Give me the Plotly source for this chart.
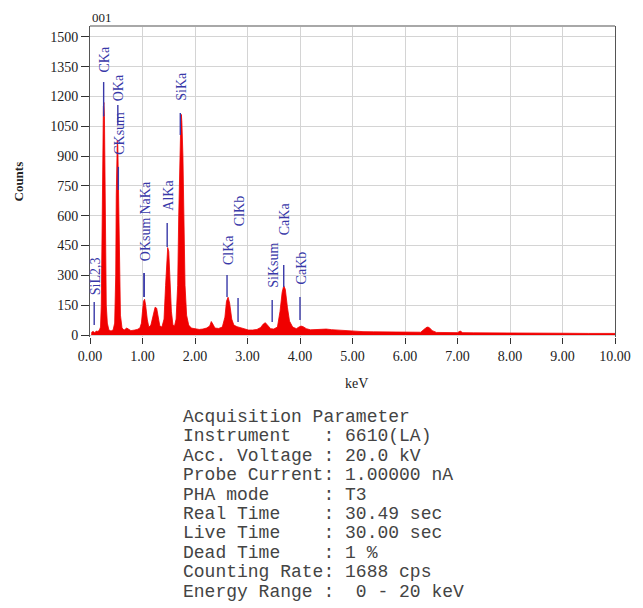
import plotly.graph_objects as go

# ---------------- data ----------------
energy_kev = [0.03, 0.035, 0.06, 0.09, 0.12, 0.15, 0.18, 0.20, 0.215, 0.225, 0.235, 0.245, 0.255, 0.265,
              0.275, 0.285, 0.295, 0.31, 0.33, 0.36, 0.40, 0.44, 0.47, 0.49, 0.50, 0.51, 0.52, 0.53,
              0.545, 0.56, 0.58, 0.61, 0.65, 0.70, 0.73, 0.78, 0.85, 0.90, 0.95, 0.98, 1.00, 1.02,
              1.04, 1.06, 1.09, 1.12, 1.16, 1.20, 1.24, 1.27, 1.30, 1.33, 1.37, 1.41, 1.44, 1.46,
              1.48, 1.50, 1.52, 1.55, 1.58, 1.61, 1.64, 1.67, 1.69, 1.71, 1.73, 1.74, 1.75, 1.77,
              1.79, 1.81, 1.84, 1.88, 1.93, 2.00, 2.08, 2.15, 2.22, 2.28, 2.31, 2.34, 2.38, 2.45,
              2.52, 2.57, 2.60, 2.63, 2.66, 2.70, 2.74, 2.80, 2.88, 2.95, 3.02, 3.10, 3.18, 3.25,
              3.30, 3.34, 3.38, 3.44, 3.50, 3.57, 3.62, 3.66, 3.69, 3.72, 3.76, 3.80, 3.86, 3.93,
              3.98, 4.02, 4.06, 4.12, 4.20, 4.30, 4.40, 4.50, 4.60, 4.70, 4.80, 4.90, 5.00, 5.20,
              5.40, 5.60, 5.80, 6.00, 6.20, 6.30, 6.36, 6.42, 6.46, 6.52, 6.60, 6.80, 7.00, 7.05,
              7.10, 7.30, 7.60, 8.00, 8.50, 9.00, 9.50, 10.00]
counts = [0, 15, 18, 12, 20, 18, 25, 40, 150, 600, 720, 900, 1150, 1170,
          1100, 700, 400, 150, 60, 25, 20, 25, 60, 300, 700, 920, 980, 950,
          700, 300, 100, 35, 25, 35, 30, 22, 25, 28, 35, 60, 120, 170,
          180, 150, 80, 40, 50, 100, 140, 135, 90, 45, 40, 80, 250, 380,
          440, 420, 300, 120, 50, 45, 80, 250, 600, 950, 1080, 1110, 1070, 900,
          550, 250, 100, 50, 35, 30, 28, 30, 35, 45, 68, 55, 35, 33,
          40, 90, 170, 190, 160, 80, 50, 42, 35, 28, 25, 25, 28, 38,
          55, 62, 50, 32, 30, 40, 120, 215, 248, 230, 140, 70, 40, 32,
          40, 45, 42, 32, 26, 28, 30, 30, 27, 25, 22, 22, 20, 17,
          16, 15, 15, 14, 13, 14, 28, 40, 38, 22, 13, 11, 12, 20,
          12, 11, 10, 10, 9, 9, 8, 8]

peak_names = ["SiL2,3", "CKa", "OKa", "CKsum", "OKsum", "NaKa", "AlKa", "SiKa",
              "ClKa", "ClKb", "SiKsum", "CaKa", "CaKb"]
peak_energy = [0.08, 0.26, 0.53, 0.54, 1.03, 1.03, 1.47, 1.72, 2.61, 2.82, 3.47, 3.69, 4.00]
line_bottom = [50, 1100, 1060, 730, 191, 191, 443, 1007, 191, 65, 65, 242, 75]
line_top = [166, 1273, 1158, 846, 312, 312, 564, 1117, 302, 186, 176, 352, 191]
label_bottom = [191, 1309, 1168, 896, 362, 594, 614, 1168, 342, 538, 226, 493, 242]

x_ticks = [0, 1, 2, 3, 4, 5, 6, 7, 8, 9, 10]
y_ticks = [0, 150, 300, 450, 600, 750, 900, 1050, 1200, 1350, 1500]

chart_title = "001"
x_title = "keV"
y_title = "Counts"
info_lines = [
    "Acquisition Parameter",
    "Instrument   : 6610(LA)",
    "Acc. Voltage : 20.0 kV",
    "Probe Current: 1.00000 nA",
    "PHA mode     : T3",
    "Real Time    : 30.49 sec",
    "Live Time    : 30.00 sec",
    "Dead Time    : 1 %",
    "Counting Rate: 1688 cps",
    "Energy Range :  0 - 20 keV",
]

# ---------------- layout helpers ----------------
# the page body has an 8px default margin, so the figure is drawn 8px smaller
OFF = 8
W, H = 643 - OFF, 608 - OFF
# plot area in page pixels
L, R, T, B = 90, 626, 26, 337


def px(xp):
    return (xp - L) / (R - L)


def py(yp):
    return (B - yp) / (B - T)


serif = "Liberation Serif, Times New Roman, serif"
blue = "#3838a8"

fig = go.Figure()

fig.add_trace(go.Scatter(
    x=energy_kev, y=counts, mode="lines", fill="tozeroy",
    line=dict(color="rgb(240,0,0)", width=0.8),
    fillcolor="rgb(240,0,0)", hoverinfo="skip", showlegend=False,
))

lx, ly = [], []
for e, b0, t0 in zip(peak_energy, line_bottom, line_top):
    lx += [e, e, None]
    ly += [b0, t0, None]
fig.add_trace(go.Scatter(x=lx, y=ly, mode="lines", line=dict(color=blue, width=1.4),
                         hoverinfo="skip", showlegend=False))

annotations = []
for name, e, lb in zip(peak_names, peak_energy, label_bottom):
    annotations.append(dict(
        x=e, y=lb, xref="x", yref="y", text=name, textangle=-90, showarrow=False,
        xanchor="center", yanchor="bottom", xshift=1,
        font=dict(family=serif, size=14, color=blue),
    ))

annotations.append(dict(x=px(90), y=py(17), xref="paper", yref="paper", text=chart_title,
                        showarrow=False, xanchor="left", yanchor="middle",
                        font=dict(family=serif, size=13, color="#222")))
annotations.append(dict(x=px(362), y=py(383), xref="paper", yref="paper", text=x_title,
                        showarrow=False, xanchor="center", yanchor="middle",
                        font=dict(family=serif, size=14, color="#222")))
annotations.append(dict(x=px(17), y=py(181), xref="paper", yref="paper", text="<b>" + y_title + "</b>",
                        showarrow=False, xanchor="center", yanchor="middle", textangle=-90,
                        font=dict(family=serif, size=13, color="#222")))

for i, line in enumerate(info_lines):
    annotations.append(dict(
        x=px(183), y=py(417 + 19.4 * i), xref="paper", yref="paper",
        text=line.replace(" ", "&nbsp;"), showarrow=False, xanchor="left", yanchor="middle",
        font=dict(family="Liberation Mono, Courier New, monospace", size=18, color="#444"),
    ))

fig.update_layout(
    width=W, height=H,
    margin=dict(l=L - OFF, r=643 - R, t=T - OFF, b=608 - B, pad=0),
    paper_bgcolor="white", plot_bgcolor="white",
    annotations=annotations,
    shapes=[dict(type="line", xref="paper", yref="paper", x0=0, x1=1, y0=1, y1=1,
                 line=dict(color="#a8a8a8", width=2))],
)

fig.update_xaxes(
    range=[0, 10], tickvals=x_ticks, tickformat=".2f",
    showgrid=True, gridcolor="#d4d4d4", gridwidth=1, zeroline=False,
    showline=False, ticks="outside", ticklen=6, tickcolor="#333", tickwidth=1,
    tickfont=dict(family=serif, size=14, color="#222"),
)
fig.update_yaxes(
    range=[-10, 1555], tickvals=y_ticks,
    showgrid=True, gridcolor="#d4d4d4", gridwidth=1, zeroline=False,
    showline=True, linecolor="#555", linewidth=1, mirror=True,
    ticks="outside", ticklen=8, tickcolor="#333", tickwidth=1,
    tickfont=dict(family=serif, size=14, color="#222"),
)

fig.write_html("out.html")
